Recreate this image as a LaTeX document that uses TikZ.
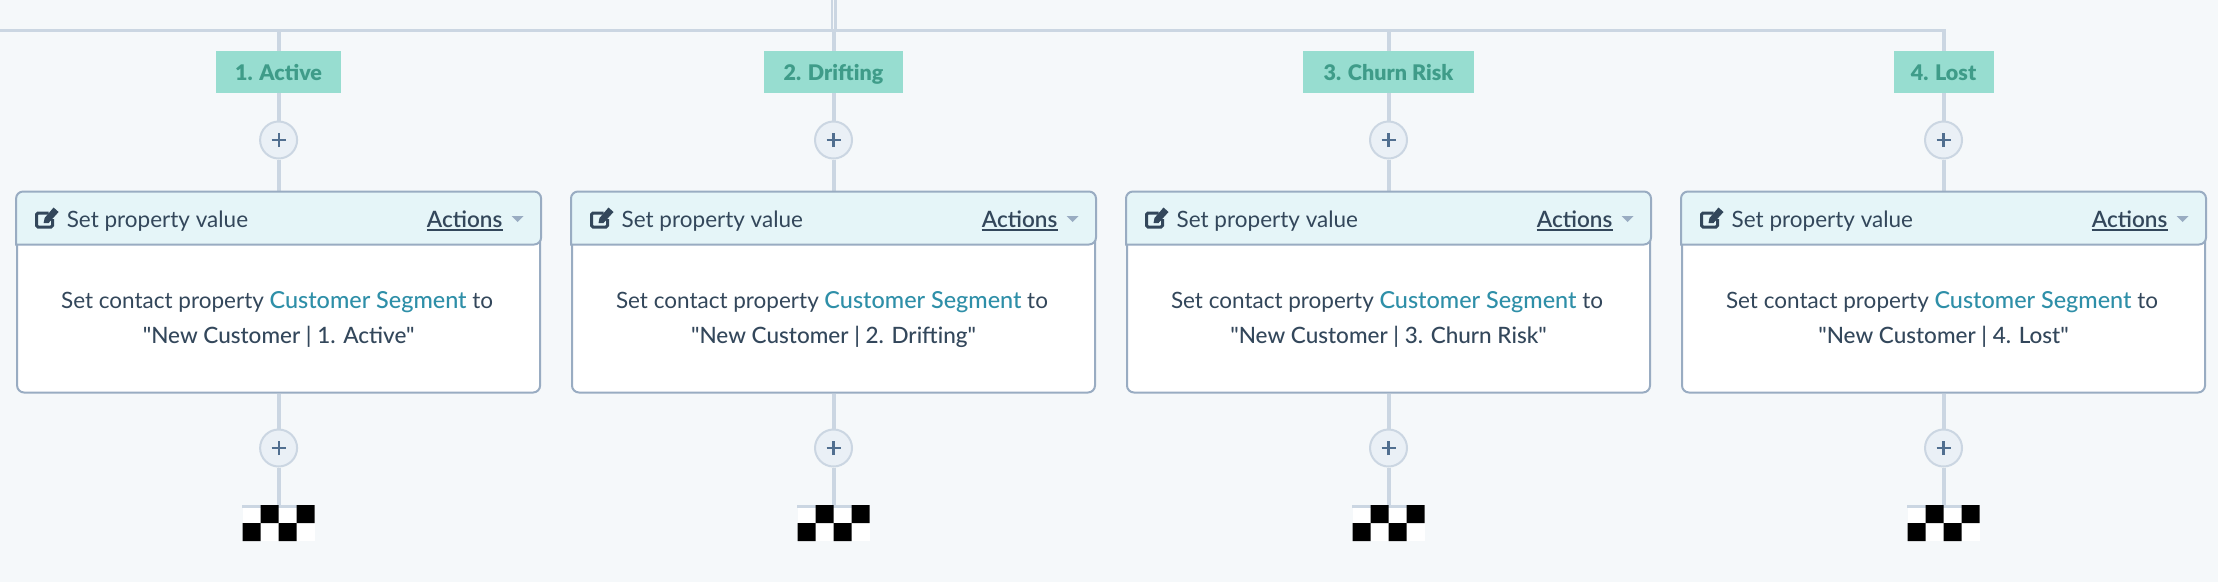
\documentclass[tikz,border=0pt]{standalone}
\usepackage{fontspec}
\setmainfont{Lato}
\newfontfamily\medfont{Lato Medium}
\newfontfamily\semifont{Lato Semibold}
\newfontfamily\tagfont{Lato Black}
\usepackage{xcolor}
\definecolor{pagebg}{HTML}{F5F8FA}
\definecolor{wire}{HTML}{CBD6E2}
\definecolor{plusbg}{HTML}{EAF0F6}
\definecolor{plusfg}{HTML}{516F90}
\definecolor{cardline}{HTML}{99ACC2}
\definecolor{headbg}{HTML}{E5F5F8}
\definecolor{inktext}{HTML}{33475B}
\definecolor{linktext}{HTML}{2E8FA8}
\definecolor{tagbg}{HTML}{97DDD0}
\definecolor{tagtext}{HTML}{3F9C89}
\tikzset{
	wireline/.style={draw=wire,line width=4pt},
	tagbox/.style={fill=tagbg,text=tagtext,font=\fontsize{21.5}{26}\selectfont\tagfont,minimum height=42pt,text height=16pt,text depth=0pt,inner xsep=0pt,inner ysep=0pt},
	plusnode/.style={circle,draw=wire,line width=2pt,fill=plusbg,text=plusfg,minimum size=37pt,inner sep=0pt},
	cardnode/.style={draw=cardline,line width=2pt,fill=white,rounded corners=7pt,minimum width=523pt,minimum height=200pt,inner sep=0pt},
	cardhead/.style={draw=cardline,line width=2pt,fill=headbg},
	headfont/.style={text=inktext,font=\fontsize{22.5}{26}\selectfont,inner sep=0pt},
	bodyfont/.style={text=inktext,font=\fontsize{22.5}{26}\selectfont,inner sep=0pt},
}
\def\plussign{\tikz[baseline=-0.5ex]{
	\draw[plusfg,line width=2.2pt] (-7pt,0)--(7pt,0) (0,-7pt)--(0,7pt);}
	}
\def\segcol#1#2#3#4{
	\begin{scope}[shift={(#1,0)}]
		\node[tagbox,minimum width=#3pt] (tag#2) at (0,72) {#4};
		\node[plusnode] (pluspre#2) at (0,140) {\plussign};
		\node[cardnode] (card#2) at (0,292.5) {};
		\node[plusnode] (pluspost#2) at (0,448) {\plussign};
		\node[fill=white,minimum width=72pt,minimum height=36pt,inner sep=0pt] (flag#2) at (0,523) {};
		\coordinate (bus#2) at (0,30);
		\draw[wireline] (bus#2)--(tag#2);
		\draw[wireline] (tag#2)--(pluspre#2);
		\draw[wireline] (pluspre#2)--(card#2);
		\draw[wireline] (card#2)--(pluspost#2);
		\draw[wireline] (pluspost#2)--(flag#2);
		\fill[wire] (flag#2.north west) rectangle ++(72pt,-3pt);
		\fill[black] (-18,505) rectangle (0,523) (18,505) rectangle (36,523);
		\fill[black] (-36,523) rectangle (-18,541) (0,523) rectangle (18,541);
		\draw[cardhead,rounded corners=7pt] (card#2.north west) -- (card#2.north east) -- ([yshift=-53pt]card#2.north east) [sharp corners] -- ([yshift=-53pt]card#2.north west) [rounded corners=7pt] -- cycle;
		\draw[inktext,line width=3pt,rounded corners=1.5pt] (-230,213) -- (-242,213) -- (-242,227) -- (-226,227) -- (-226,219);
		\fill[inktext] (-235,223) -- (-234,218) -- (-225,207.5) -- (-220,212) -- (-230,223) -- cycle;
		\node[headfont,anchor=base west] (headtxt#2) at (-212,227) {Set property value};
		\node[headfont,anchor=base east,inner ysep=3pt] (act#2) at (224,227) {\semifont Actions};
		\draw[inktext,line width=1.8pt] (act#2.south west)--(act#2.south east);
		\fill[cardline] (233,216) -- (245,216) -- (239,222) -- cycle;
		\node[bodyfont,anchor=base] (bodyA#2) at (-1.5,308) {Set contact property {\fontsize{23.4}{26}\selectfont\medfont\color{linktext}Customer Segment} to};
		\node[headfont,anchor=base] (bodyB#2) at (0,343) {\medfont "New Customer | #4"};
	\end{scope}
}

\begin{document}
\begin{tikzpicture}[x=1pt,y=-1pt]
	\useasboundingbox (0,0) rectangle (2218,582);
	\fill[pagebg] (0,0) rectangle (2218,582);
	\coordinate (busL) at (0,30);
	\coordinate (busR) at (1945.5,30);
	\coordinate (inA) at (832,0);
	\coordinate (inAb) at (832,29);
	\coordinate (inB) at (835.5,0);
	\coordinate (inBb) at (835.5,29);
	\draw[wireline,line width=2.4pt] (inA)--(inAb);
	\draw[wireline,line width=2.4pt] (inB)--(inBb);
	\segcol{278.6}{1}{125}{1. Active}
	\segcol{833.5}{2}{139}{2. Drifting}
	\segcol{1388.5}{3}{171}{3. Churn Risk}
	\segcol{1943.5}{4}{100}{4. Lost}
	\draw[wireline,line width=3pt] (busL)--(busR);
\end{tikzpicture}
\end{document}
